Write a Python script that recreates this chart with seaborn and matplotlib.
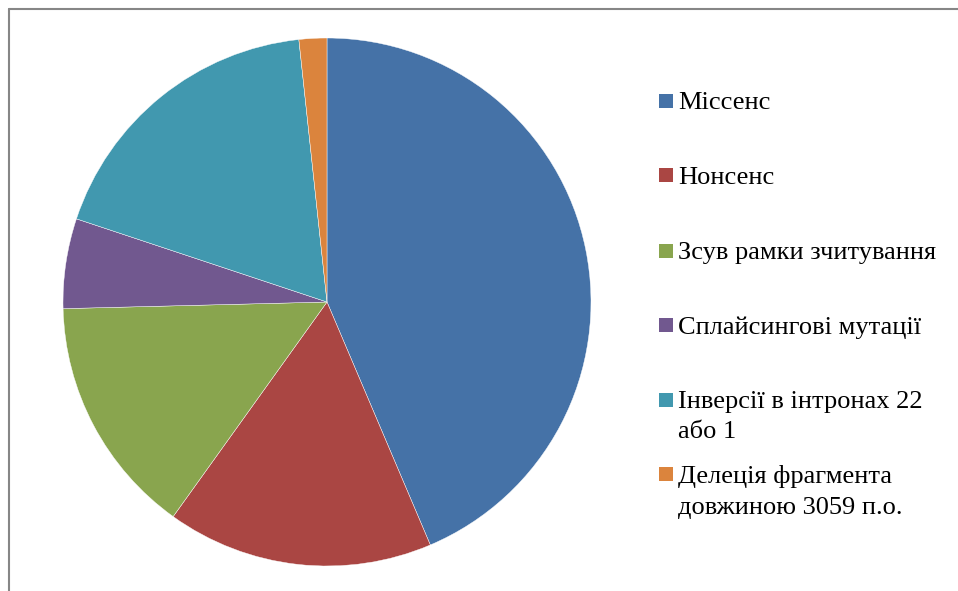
import matplotlib
matplotlib.use("Agg")
import matplotlib.pyplot as plt
from matplotlib.patches import Rectangle
from matplotlib.lines import Line2D
import seaborn as sns

# Mutation types and their shares (%)
categories = [
    "Міссенс",
    "Нонсенс",
    "Зсув рамки зчитування",
    "Сплайсингові мутації",
    "Інверсії в інтронах 22\nабо 1",
    "Делеція фрагмента\nдовжиною 3059 п.о.",
]
shares = [43.6, 16.3, 14.7, 5.5, 18.2, 1.7]
colors = ["#4572A7", "#AA4643", "#89A54E", "#71588F", "#4198AF", "#DB843D"]

sns.set_theme(style="white")
plt.rcParams["font.family"] = ["Liberation Serif", "DejaVu Serif"]
palette = sns.color_palette(colors)

W, H = 958, 591
fig = plt.figure(figsize=(W / 100, H / 100), dpi=100)

# Pie area: square in pixels, centre (327, 302), radius 264
cx, cy, r = 327, 302, 264
ax = fig.add_axes([(cx - r) / W, (H - cy - r) / H, 2 * r / W, 2 * r / H])
wedges, _ = ax.pie(
    shares,
    colors=palette,
    startangle=90,
    counterclock=False,
    radius=1.0,
    wedgeprops=dict(edgecolor="white", linewidth=0.3),
)
ax.set_xlim(-1, 1)
ax.set_ylim(-1, 1)
ax.set_aspect("equal")
ax.axis("off")

# Legend: evenly spaced entries, marker aligned with the first text line
entry_y = [100.5, 175.5, 250.5, 324.7, 399.5, 474.0]
sq = 14
for wedge, label, y in zip(wedges, categories, entry_y):
    fig.add_artist(Rectangle(((659) / W, (H - y - sq / 2) / H), sq / W, sq / H,
                             transform=fig.transFigure,
                             facecolor=wedge.get_facecolor(), edgecolor="none"))
    fig.text(678 / W, (H - y + 8.5) / H, label, fontsize=19, color="black",
             ha="left", va="top", linespacing=1.5)

# Chart frame (top and left edges)
fig.add_artist(Line2D([8.5 / W, 1.0], [(H - 8.5) / H, (H - 8.5) / H],
                      transform=fig.transFigure, color="#868686", linewidth=1.5))
fig.add_artist(Line2D([8.5 / W, 8.5 / W], [0.0, (H - 8.5) / H],
                      transform=fig.transFigure, color="#868686", linewidth=1.5))

fig.savefig("out.png", dpi=100, facecolor="white")
